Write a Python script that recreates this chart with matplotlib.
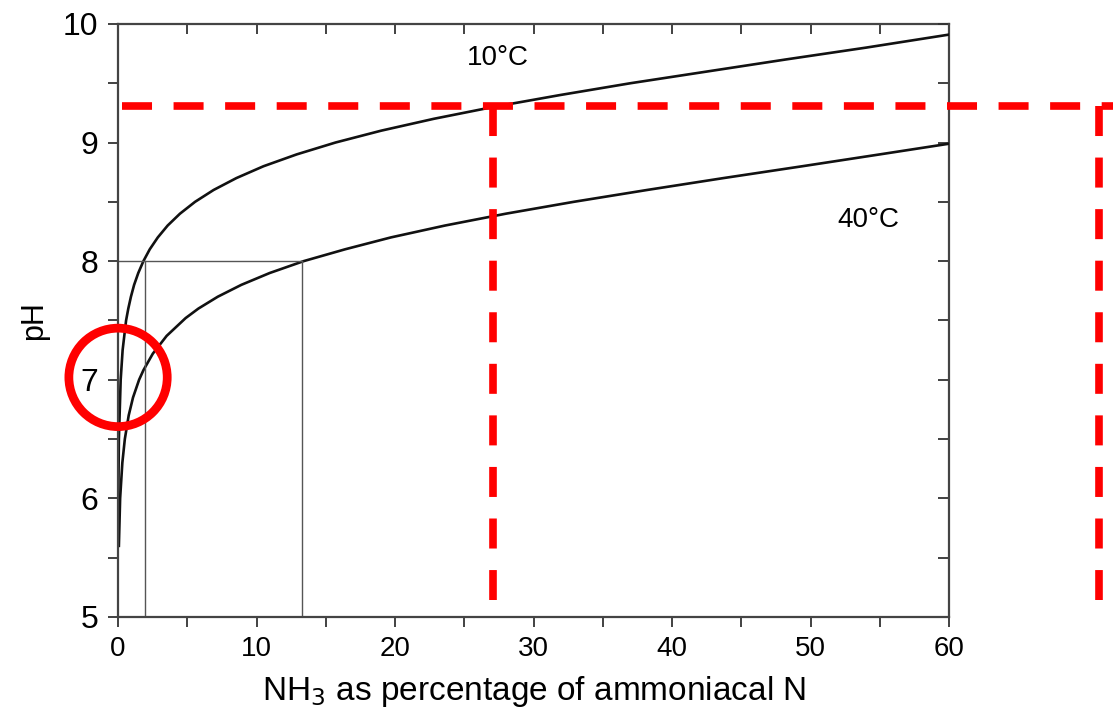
import matplotlib.pyplot as plt
from matplotlib.patches import Ellipse
from matplotlib.ticker import MultipleLocator, NullFormatter

plt.rcParams['font.family'] = ['Liberation Sans', 'DejaVu Sans']

# curves: NH3 as % of ammoniacal N vs pH
nh3_10c = [0.007, 0.019, 0.06, 0.19, 0.33, 0.58, 0.74, 0.93, 1.16, 1.46, 1.83, 2.29,
           2.87, 3.58, 4.47, 5.56, 6.9, 8.54, 10.5, 12.9, 15.7, 19.0, 22.8, 27.1,
           31.9, 37.0, 42.6, 48.2, 54.0, 60.0]
ph_10c = [5.6, 6.0, 6.5, 7.0, 7.25, 7.5, 7.6, 7.7, 7.8, 7.9, 8.0, 8.1,
          8.2, 8.3, 8.4, 8.5, 8.6, 8.7, 8.8, 8.9, 9.0, 9.1, 9.2, 9.3,
          9.4, 9.5, 9.6, 9.7, 9.8, 9.91]

nh3_40c = [0.06, 0.15, 0.31, 0.49, 0.77, 1.08, 1.52, 1.83, 2.51, 3.51, 4.88, 5.8,
           7.2, 8.9, 10.95, 13.4, 16.4, 19.7, 23.6, 28.0, 32.9, 38.2, 43.7, 49.4,
           55.0, 60.0]
ph_40c = [5.6, 6.0, 6.3, 6.5, 6.7, 6.85, 7.0, 7.08, 7.22, 7.37, 7.52, 7.6,
          7.7, 7.8, 7.9, 8.0, 8.1, 8.2, 8.3, 8.4, 8.5, 8.6, 8.7, 8.8,
          8.9, 8.99]

# thin guide lines at pH 8
guide_ph = 8.0
guide_x = [1.95, 13.3]

# red annotation (dashed box and circle)
red_ph = 9.31
red_x_start, red_x_end = 0.29, 71.8
red_verticals = [27.1, 70.8]
red_bottom = 5.14
circle_x, circle_ph = 0.0, 7.02

fig = plt.figure(figsize=(11.2, 7.18), dpi=100)
ax = fig.add_axes([0.1054, 0.1407, 0.742, 0.826])

ax.plot(nh3_10c, ph_10c, color="#111111", linewidth=1.9)
ax.plot(nh3_40c, ph_40c, color="#111111", linewidth=1.9)

ax.plot([0, guide_x[1]], [guide_ph, guide_ph], color="#555555", linewidth=1.0)
for gx in guide_x:
    ax.plot([gx, gx], [5, guide_ph], color="#555555", linewidth=1.0)

ax.text(27.4, 9.71, "10°C", ha="center", va="center", fontsize=20)
ax.text(54.2, 8.35, "40°C", ha="center", va="center", fontsize=20)

ax.set_xlim(0, 60)
ax.set_ylim(5, 10)
ax.xaxis.set_major_locator(MultipleLocator(10))
ax.xaxis.set_minor_locator(MultipleLocator(5))
ax.yaxis.set_major_locator(MultipleLocator(1))
ax.yaxis.set_minor_locator(MultipleLocator(0.5))
ax.tick_params(which="both", direction="out", length=7, width=1.3, color="#333333")
ax.tick_params(axis="x", labelsize=20, pad=7)
ax.tick_params(axis="y", labelsize=23, pad=7)

for side in ["top", "right"]:
    ax.spines[side].set_visible(False)
for spine in ax.spines.values():
    spine.set_color("#444444")
    spine.set_linewidth(1.6)

top = ax.secondary_xaxis("top")
top.xaxis.set_major_locator(MultipleLocator(5))
top.xaxis.set_major_formatter(NullFormatter())
top.tick_params(direction="in", length=7, width=1.3, color="#333333")
right = ax.secondary_yaxis("right")
right.yaxis.set_major_locator(MultipleLocator(0.5))
right.yaxis.set_major_formatter(NullFormatter())
right.tick_params(direction="in", length=8, width=1.3, color="#333333")
for sec in (top, right):
    for spine in sec.spines.values():
        spine.set_color("#444444")
        spine.set_linewidth(1.6)

ax.set_xlabel("NH$_3$ as percentage of ammoniacal N", fontsize=24, labelpad=8)
ax.set_ylabel("pH", fontsize=22, labelpad=10)

# red dashed markers
red_style = dict(color="#ff0000", linewidth=5.5, linestyle=(0, (3.93, 2.82)),
                 clip_on=False, zorder=5)
ax.plot([red_x_start, red_x_end], [red_ph, red_ph], **red_style)
for vx in red_verticals:
    ax.plot([vx, vx], [red_ph, red_bottom], **red_style)

ring = Ellipse((circle_x, circle_ph), width=7.1, height=0.83, fill=False,
               edgecolor="#ff0000", linewidth=6.3, clip_on=False, zorder=6)
ax.add_patch(ring)

fig.savefig("out.png", dpi=100)
